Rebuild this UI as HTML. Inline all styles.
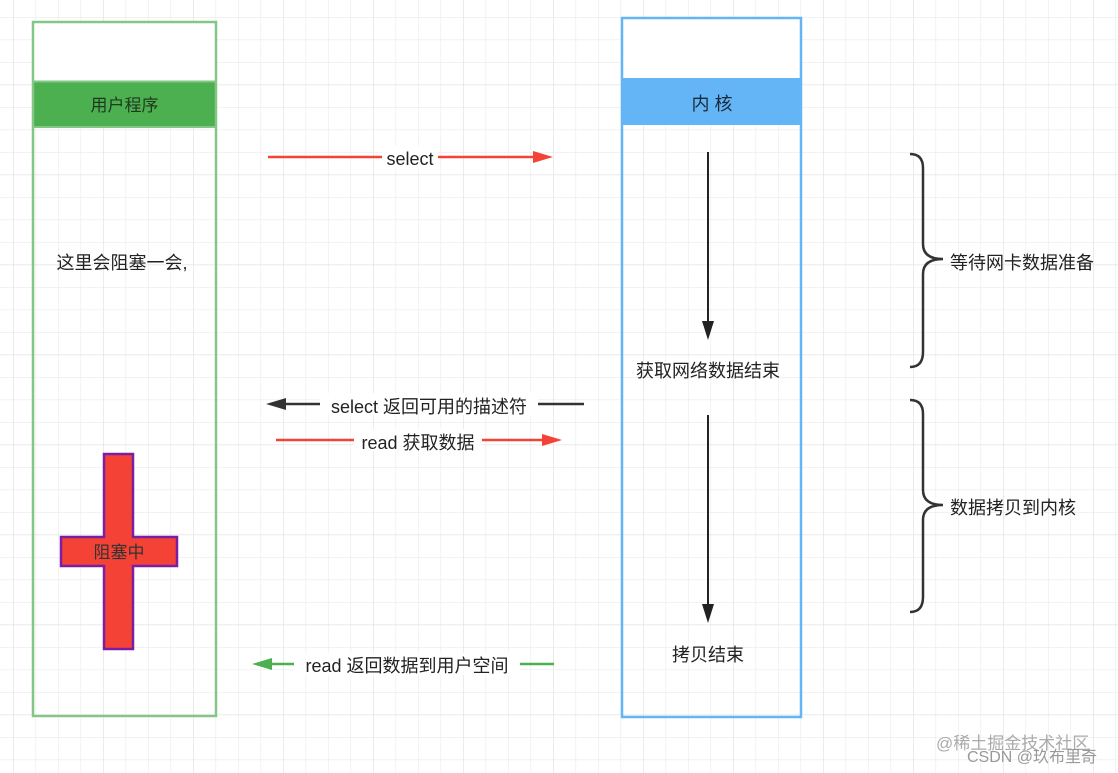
<!DOCTYPE html>
<html><head><meta charset="utf-8"><style>
html,body{margin:0;padding:0;background:#fff;}
svg{display:block;}
text{font-family:"Liberation Sans","Noto Sans CJK SC",sans-serif;}
</style></head><body>
<svg width="1118" height="773" xmlns="http://www.w3.org/2000/svg">
<defs>
<pattern id="g" x="13" y="-5.5" width="22.5" height="22.5" patternUnits="userSpaceOnUse">
<path d="M0 0H22.5M0 0V22.5" stroke="#ebebeb" stroke-width="1.2" fill="none"/>
</pattern>
<pattern id="G" x="13" y="-5.5" width="90" height="90" patternUnits="userSpaceOnUse">
<path d="M0 0H90M0 0V90" stroke="#e0e0e0" stroke-width="1.2" fill="none"/>
</pattern>
</defs>
<rect width="1118" height="773" fill="url(#g)"/>
<rect width="1118" height="773" fill="url(#G)"/>

<!-- left box -->
<rect x="33" y="22" width="183" height="59" fill="#fff"/>
<rect x="33" y="82" width="183" height="45" fill="#4caf50"/>
<rect x="33" y="22" width="183" height="694" fill="none" stroke="#82c785" stroke-width="2.5"/>
<line x1="33" y1="81.5" x2="216" y2="81.5" stroke="#82c785" stroke-width="2"/>
<line x1="33" y1="127" x2="216" y2="127" stroke="#82c785" stroke-width="2"/>
<text x="124.5" y="111" font-size="17" fill="#1e3a1e" text-anchor="middle">用户程序</text>
<text x="122" y="269" font-size="18" fill="#222" text-anchor="middle">这里会阻塞一会,</text>

<!-- cross -->
<path d="M104 454H133V537H177V566H133V649H104V566H61V537H104Z" fill="#f44336" stroke="#7b1fa2" stroke-width="2.5"/>
<text x="119" y="558" font-size="17" fill="#333" text-anchor="middle">阻塞中</text>

<!-- right box -->
<rect x="622" y="18" width="179" height="60" fill="#fff"/>
<rect x="622" y="78" width="179" height="47" fill="#64b5f6"/>
<rect x="622" y="18" width="179" height="699" fill="none" stroke="#64b5f6" stroke-width="2.5"/>
<text x="712" y="110" font-size="18" fill="#1a2a3a" text-anchor="middle">内 核</text>

<!-- vertical arrows -->
<line x1="708" y1="152" x2="708" y2="324" stroke="#222" stroke-width="2"/>
<path d="M702 321L708 340L714 321Z" fill="#222"/>
<text x="708" y="377" font-size="18" fill="#222" text-anchor="middle">获取网络数据结束</text>
<line x1="708" y1="415" x2="708" y2="608" stroke="#222" stroke-width="2"/>
<path d="M702 604L708 623L714 604Z" fill="#222"/>
<text x="708" y="661" font-size="18" fill="#222" text-anchor="middle">拷贝结束</text>

<!-- horizontal arrows -->
<line x1="268" y1="157" x2="538" y2="157" stroke="#f44336" stroke-width="2.5"/>
<path d="M533 151L553 157L533 163Z" fill="#f44336"/>
<rect x="382" y="146" width="56" height="22" fill="#fff"/>
<text x="410" y="165" font-size="18" fill="#222" text-anchor="middle">select</text>

<line x1="282" y1="404" x2="584" y2="404" stroke="#333" stroke-width="2.5"/>
<path d="M286 398L266 404L286 410Z" fill="#333"/>
<rect x="320" y="393" width="218" height="22" fill="#fff"/>
<text x="429" y="413" font-size="18" fill="#222" text-anchor="middle">select 返回可用的描述符</text>

<line x1="276" y1="440" x2="546" y2="440" stroke="#f44336" stroke-width="2.5"/>
<path d="M542 434L562 440L542 446Z" fill="#f44336"/>
<rect x="354" y="429" width="128" height="22" fill="#fff"/>
<text x="418" y="449" font-size="18" fill="#222" text-anchor="middle">read 获取数据</text>

<line x1="270" y1="664" x2="554" y2="664" stroke="#4caf50" stroke-width="2.5"/>
<path d="M272 658L252 664L272 670Z" fill="#4caf50"/>
<rect x="294" y="653" width="226" height="22" fill="#fff"/>
<text x="407" y="672" font-size="18" fill="#222" text-anchor="middle">read 返回数据到用户空间</text>

<!-- braces -->
<path d="M910 154Q923 154 923 168V244Q923 259 943 259Q923 259 923 274V352Q923 367 910 367" fill="none" stroke="#333" stroke-width="2.5"/>
<text x="950" y="269" font-size="18" fill="#222">等待网卡数据准备</text>
<path d="M910 400Q923 400 923 414V490Q923 505 943 505Q923 505 923 520V597Q923 612 910 612" fill="none" stroke="#333" stroke-width="2.5"/>
<text x="950" y="514" font-size="18" fill="#222">数据拷贝到内核</text>

<text x="936" y="749" font-size="17" fill="#aaa">@稀土掘金技术社区</text>
<text x="967" y="762" font-size="16" fill="#999">CSDN @玖布里奇</text>
</svg>
</body></html>
